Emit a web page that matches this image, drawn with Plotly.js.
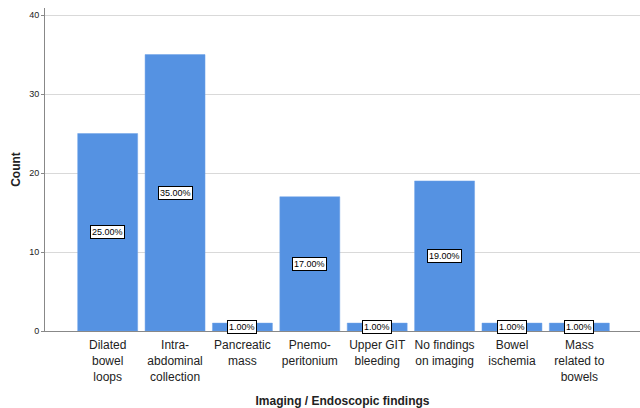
<!DOCTYPE html>
<html>
<head>
<meta charset="utf-8">
<script src="https://cdn.plot.ly/plotly-3.0.1.min.js"></script>
<style>html,body{margin:0;padding:0;background:#fff;}#chart{width:640px;height:408px;}</style>
</head>
<body>
<div id="chart"></div>
<script>
var categories = ["Dilated<br>bowel<br>loops", "Intra-<br>abdominal<br>collection", "Pancreatic<br>mass", "Pnemo-<br>peritonium", "Upper GIT<br>bleeding", "No findings<br>on imaging", "Bowel<br>ischemia", "Mass<br>related to<br>bowels"];
var counts = [25, 35, 1, 17, 1, 19, 1, 1];
var percents = [25.00, 35.00, 1.00, 17.00, 1.00, 19.00, 1.00, 1.00];
var yTicks = [0, 10, 20, 30, 40];

var xIdx = categories.map(function(_, i){ return i; });

var annotations = xIdx.map(function(i){
  return {
    x: i, y: counts[i] / 2, xref: 'x', yref: 'y',
    text: percents[i].toFixed(2) + '%',
    showarrow: false,
    font: {family: 'Liberation Sans, Arial, sans-serif', size: 9, color: '#000'},
    bgcolor: '#fff', bordercolor: '#000', borderwidth: 1, borderpad: 1
  };
});

var trace = {
  type: 'bar', x: xIdx, y: counts,
  marker: {color: '#5592e2', line: {color: '#6fa3e8', width: 0.5}},
  hoverinfo: 'none'
};

var layout = {
  width: 640, height: 408,
  margin: {l: 45, r: 0, t: 8, b: 77},
  paper_bgcolor: '#fff', plot_bgcolor: '#fff',
  bargap: 0.11,
  showlegend: false,
  font: {family: 'Liberation Sans, Arial, sans-serif', color: '#222'},
  xaxis: {
    tickmode: 'array', tickvals: xIdx, ticktext: categories,
    range: [-0.93, 7.9],
    showgrid: false, zeroline: false,
    showline: true, linecolor: '#888', linewidth: 1,
    ticks: '', ticklabelstandoff: 3, tickfont: {size: 12, color: '#222'},
    title: {text: '<b>Imaging / Endoscopic findings</b>', font: {size: 12, color: '#222'}, standoff: 14}
  },
  yaxis: {
    range: [0, 40.9],
    tickmode: 'array', tickvals: yTicks,
    showgrid: true, gridcolor: '#d9d9d9', gridwidth: 1,
    zeroline: false,
    showline: true, linecolor: '#888', linewidth: 1,
    ticks: 'outside', ticklen: 3, tickcolor: '#888',
    tickfont: {size: 9, color: '#222'},
    title: {text: '<b>Count</b>', font: {size: 12, color: '#222'}, standoff: 5}
  },
  annotations: annotations
};

Plotly.newPlot('chart', [trace], layout, {staticPlot: true, displayModeBar: false});
</script>
</body>
</html>
